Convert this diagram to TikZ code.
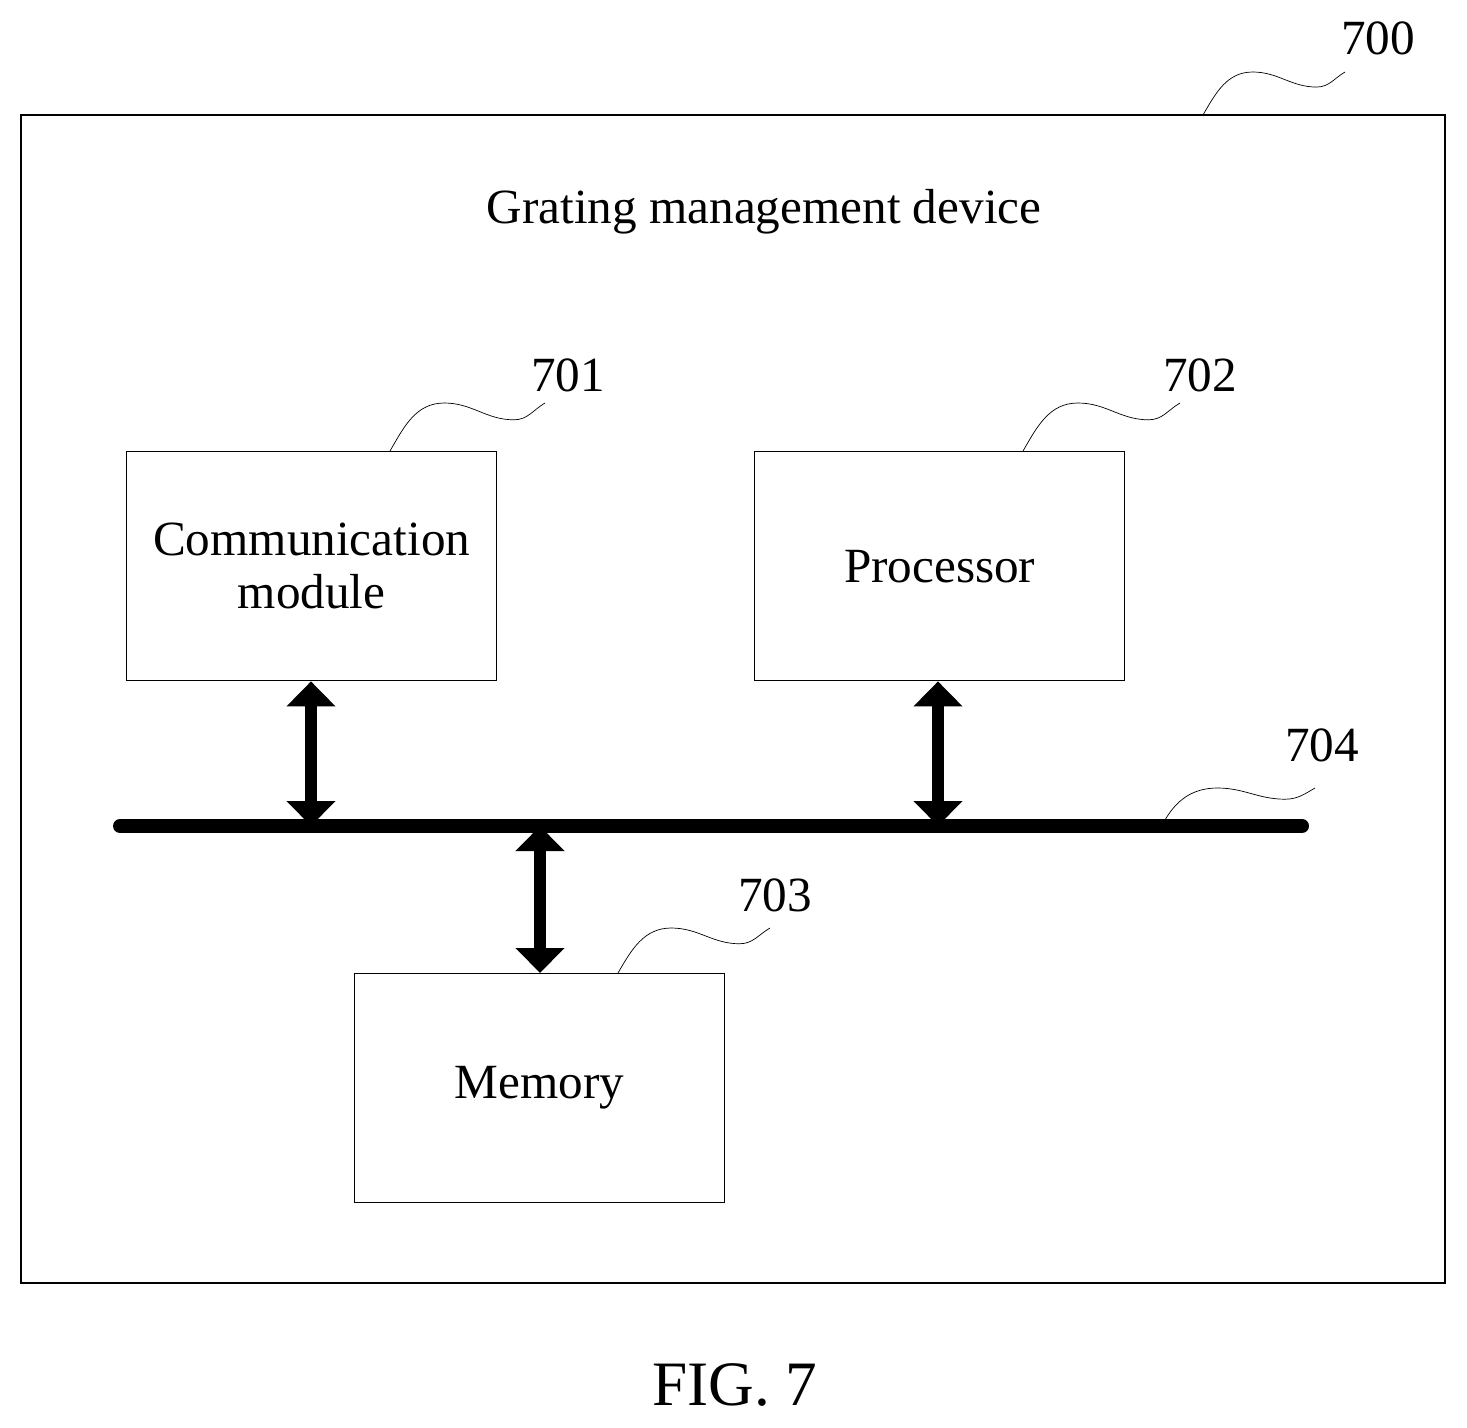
\documentclass[tikz,border=0pt]{standalone}
\usepackage{fontspec}
\setmainfont{Liberation Serif}
\usetikzlibrary{positioning}
\usetikzlibrary{arrows.meta}
\usetikzlibrary{calc}

% leader line (squiggle) from (x1,y1) up to (x2,y2), pixel units
\newcommand{\leadline}[4]{%
  \pgfmathsetmacro{\lw}{#3-#1}\pgfmathsetmacro{\lh}{#2-#4}%
  \draw[thin] (#1,-#2) to[out=60,in=180] ++(0.35*\lw,\lh)
    to[out=0,in=180] ++(0.45*\lw,-0.35*\lh)
    to[out=0,in=210] (#3,-#4);}

\begin{document}
\begin{tikzpicture}[x=0.02cm, y=0.02cm,
  box/.style={draw, thick, align=center, minimum width=7.4cm, minimum height=4.58cm, anchor=north west, font=\fontsize{28}{30}\selectfont},
  label/.style={font=\fontsize{28}{30}\selectfont},
  busarrow/.style={line width=0.24cm, {Triangle[length=0.5cm,width=0.95cm]}-{Triangle[length=0.5cm,width=0.95cm]}}
]
\useasboundingbox (0,0) rectangle (1467,-1427);
% Frame
\draw[thick] (21,-115) rectangle (1445,-1283);
\node[label] (title) at (764,-212) {Grating management device};

% Nodes
\node[box] (comm) at (126,-451) {Communication\\module};
\node[box] (proc) at (754,-451) {Processor};
\node[box] (mem) at (354,-973) {Memory};

% Bus
\coordinate (busL) at (120,-826);
\coordinate (busR) at (1302,-826);
\draw[line width=0.28cm, line cap=round] (busL) -- (busR);

% Edges
\draw[busarrow] (comm.south -| 311,0) -- (busL -| 311,0);
\draw[busarrow] (proc.south -| 938,0) -- (busL -| 938,0);
\draw[busarrow] (busL -| 540,0) -- (mem.north -| 540,0);

% Reference numerals
\node[label] (n700) at (1378,-38) {700};
\node[label] (n701) at (568,-375) {701};
\node[label] (n702) at (1200,-375) {702};
\node[label] (n704) at (1322,-745) {704};
\node[label] (n703) at (775,-895) {703};
\leadline{1203}{115}{1345}{72}
\leadline{390}{451}{545}{403}
\leadline{1023}{451}{1180}{403}
\leadline{1165}{820}{1315}{788}
\leadline{618}{973}{770}{928}

\node[font=\fontsize{36}{40}\selectfont] (fig) at (735,-1385) {FIG. 7};
\end{tikzpicture}
\end{document}
